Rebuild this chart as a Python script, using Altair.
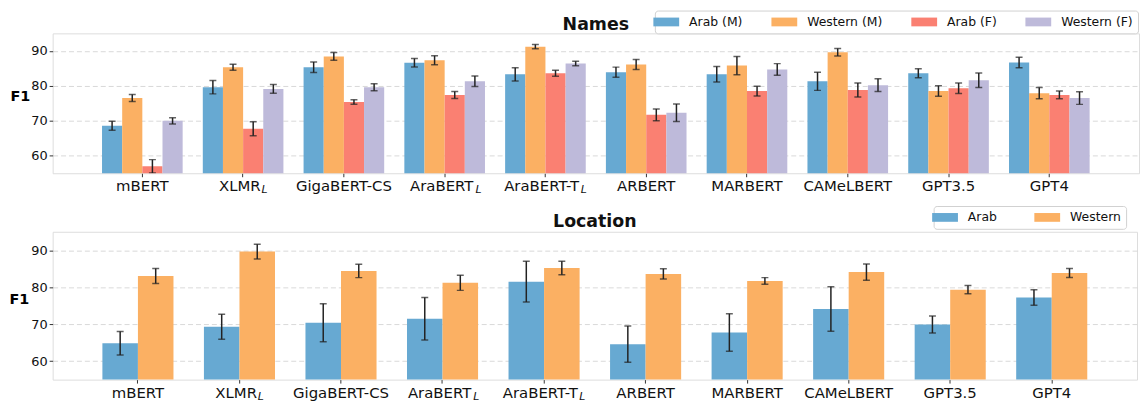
import altair as alt
import pandas as pd

models = ["mBERT", "XLMR", "GigaBERT-CS", "AraBERT", "AraBERT-T", "ARBERT",
          "MARBERT", "CAMeLBERT", "GPT3.5", "GPT4"]
subs = ["", "L", "", "L", "L", "", "", "", "", ""]

name_groups = ["Arab (M)", "Western (M)", "Arab (F)", "Western (F)"]
arab_m = [68.6, 79.6, 85.3, 86.6, 83.3, 83.9, 83.3, 81.3, 83.6, 86.7]
arab_m_err = [1.3, 1.9, 1.5, 1.2, 1.9, 1.45, 2.2, 2.6, 1.3, 1.5]
western_m = [76.5, 85.3, 88.4, 87.3, 91.2, 86.1, 85.8, 89.6, 78.5, 77.9]
western_m_err = [1.0, 0.85, 1.1, 1.3, 0.6, 1.4, 2.6, 1.1, 1.5, 1.6]
arab_f = [57.0, 67.7, 75.4, 77.4, 83.6, 71.7, 78.5, 78.8, 79.3, 77.4]
arab_f_err = [1.9, 2.0, 0.65, 1.0, 0.85, 1.7, 1.4, 2.0, 1.5, 1.1]
western_f = [70.0, 79.1, 79.6, 81.3, 86.4, 72.3, 84.7, 80.2, 81.6, 76.5]
western_f_err = [0.9, 1.25, 1.0, 1.5, 0.65, 2.5, 1.65, 1.85, 2.1, 1.8]

loc_groups = ["Arab", "Western"]
loc_arab = [64.85, 69.3, 70.4, 71.45, 81.5, 64.6, 67.75, 74.1, 69.9, 77.25]
loc_arab_err = [3.2, 3.4, 5.15, 5.75, 5.5, 4.9, 5.1, 6.0, 2.3, 2.1]
loc_western = [83.05, 89.65, 84.4, 81.2, 85.2, 83.6, 81.7, 84.1, 79.35, 83.85]
loc_western_err = [2.05, 2.0, 1.8, 2.05, 1.85, 1.4, 0.9, 2.2, 1.1, 1.2]

colors4 = ["#67a9d2", "#fbb063", "#fa8072", "#bebada"]
colors2 = ["#67a9d2", "#fbb063"]

FONT = "DejaVu Sans"


def long_df(groups, series, errs):
    rows = []
    for g, vals, es in zip(groups, series, errs):
        for m, v, e in zip(models, vals, es):
            rows.append({"model": m, "group": g, "value": v, "err": e})
    return pd.DataFrame(rows)


names_df = long_df(name_groups, [arab_m, western_m, arab_f, western_f],
                   [arab_m_err, western_m_err, arab_f_err, western_f_err])
loc_df = long_df(loc_groups, [loc_arab, loc_western], [loc_arab_err, loc_western_err])
lab_df = pd.DataFrame({"model": models, "sub": subs})

sub_dx = {"XLMR": (-3.3, 18.5), "AraBERT": (-3.0, 31.0), "AraBERT-T": (-3.8, 35.5)}


def panel(df, groups, colors, title, width, height, pad_inner, legend_x, legend_y,
          cols, col_pad, title_xy, label_y, title_y):
    x = alt.X("model:N", sort=models,
              scale=alt.Scale(paddingInner=pad_inner, paddingOuter=0.49),
              axis=alt.Axis(labels=False, ticks=True, tickSize=3.5, tickColor="#333",
                            domain=False, grid=False, title=None))
    xoff = alt.XOffset("group:N", sort=groups,
                       scale=alt.Scale(domain=groups, paddingInner=0, paddingOuter=0))
    yscale = alt.Scale(domain=[55, 95], zero=False, nice=False)
    yaxis = alt.Axis(values=[60, 70, 80, 90], title="F1", titleAngle=0,
                     titleFontWeight="bold", titleFontSize=14.5, titleFont=FONT,
                     titleX=title_xy[0], titleY=title_xy[1], titleAlign="center",
                     titleBaseline="middle", labelFontSize=13, labelFont=FONT,
                     labelColor="#111", tickSize=3.5, tickColor="#333", domain=False,
                     grid=True, gridDash=[5, 3], gridColor="#d4d4d4", gridWidth=0.9,
                     labelPadding=2)
    base = alt.Chart(df).transform_calculate(
        lo="datum.value - datum.err", hi="datum.value + datum.err")
    bars = base.mark_bar(clip=True).encode(
        x=x, xOffset=xoff,
        y=alt.Y("value:Q", scale=yscale, axis=yaxis),
        color=alt.Color("group:N", sort=groups,
                        scale=alt.Scale(domain=groups, range=colors),
                        legend=alt.Legend(title=None, orient="none", legendX=legend_x,
                                          legendY=legend_y, direction="horizontal",
                                          columns=cols, columnPadding=col_pad,
                                          symbolType="M-2,-0.68H2V0.68H-2Z",
                                          symbolSize=169, symbolStrokeWidth=0,
                                          labelFontSize=12.5, labelFont=FONT,
                                          labelColor="#111", labelOffset=16.5,
                                          padding=5, strokeColor="#d0d0d0",
                                          cornerRadius=3, fillColor="white")))
    ylo = alt.Y("lo:Q", scale=yscale, title="F1")
    rules = base.mark_rule(clip=True, color="#222", strokeWidth=1.5).encode(
        x=x, xOffset=xoff, y=ylo, y2="hi:Q")
    cap_lo = base.mark_tick(clip=True, color="#222", size=7, thickness=1.5,
                            orient="horizontal").encode(x=x, xOffset=xoff, y=ylo)
    cap_hi = base.mark_tick(clip=True, color="#222", size=7, thickness=1.5,
                            orient="horizontal").encode(
        x=x, xOffset=xoff, y=alt.Y("hi:Q", scale=yscale, title="F1"))

    lab = alt.Chart(lab_df)
    xl = alt.X("model:N", sort=models)
    layers = [bars, rules, cap_lo, cap_hi]
    layers.append(lab.transform_filter("datum.sub == ''").mark_text(
        font=FONT, fontSize=15, color="#111", align="center",
        baseline="alphabetic").encode(x=xl, y=alt.value(height + label_y), text="model:N"))
    for m, (bdx, sdx) in sub_dx.items():
        f = lab.transform_filter(alt.datum.model == m)
        layers.append(f.mark_text(font=FONT, fontSize=15, color="#111", align="center",
                                  baseline="alphabetic", dx=bdx).encode(
            x=xl, y=alt.value(height + label_y), text="model:N"))
        layers.append(f.mark_text(font=FONT, fontSize=11, fontStyle="italic",
                                  color="#111", align="left", baseline="alphabetic",
                                  dx=sdx).encode(
            x=xl, y=alt.value(height + label_y + 2), text="sub:N"))
    ttl = alt.Chart(pd.DataFrame({"t": [title]})).mark_text(
        font=FONT, fontSize=17.5, fontWeight="bold", color="#111", align="center",
        baseline="alphabetic").encode(x=alt.value(width / 2), y=alt.value(title_y),
                                      text="t:N")
    layers.append(ttl)
    return alt.layer(*layers).properties(width=width, height=height)


top = panel(names_df, name_groups, colors4, "Names", 1095, 141, 0.2,
            607, -23, 4, 28, (-33, 64), 18, -3.6)
bottom = panel(loc_df, loc_groups, colors2, "Location", 1093, 149, 0.3,
               888, -26, 2, 37, (-34, 68), 19, -4.4)

chart = alt.vconcat(top, bottom, spacing=9).resolve_scale(
    x="independent", xOffset="independent", y="independent", color="independent"
).resolve_legend(color="independent").configure_view(
    stroke="#3a3a3a", strokeWidth=1.2).configure(padding=0)

chart.save("out.html", embed_options={"renderer": "svg", "actions": False})
